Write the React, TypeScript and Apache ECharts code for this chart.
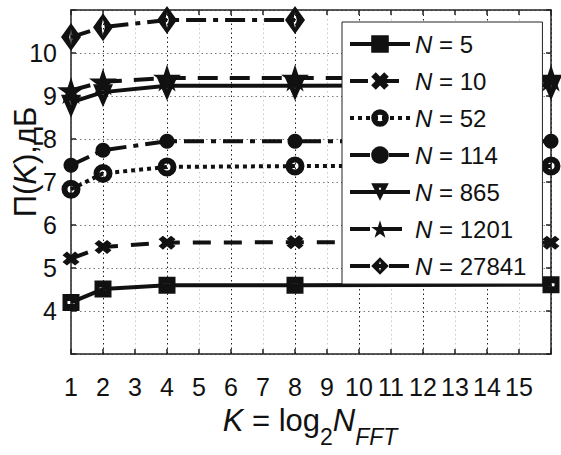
import React, { useEffect, useRef } from 'react';
import * as echarts from 'echarts';

const kValues = [1, 2, 4, 8, 16];
const seriesNames = ['5', '10', '52', '114', '865', '1201', '27841'];
const n5 = [4.2, 4.51, 4.6, 4.6, 4.61];
const n10 = [5.22, 5.49, 5.59, 5.6, 5.59];
const n52 = [6.83, 7.2, 7.35, 7.37, 7.37];
const n114 = [7.39, 7.74, 7.95, 7.95, 7.95];
const n865 = [8.85, 9.09, 9.24, 9.24, 9.25];
const n1201 = [9.13, 9.33, 9.42, 9.42, 9.42];
const n27841 = [10.37, 10.6, 10.77, 10.77, null];
const xTickLabels = ['1', '2', '3', '4', '5', '6', '7', '8', '9', '10', '11', '12', '13', '14', '15'];
const yTickLabels = ['4', '5', '6', '7', '8', '9', '10'];

const FONT = '"Liberation Sans", Arial, sans-serif';
const INK = '#111';

// marker shapes (filled, with holes where the original markers show white)
const SQUARE_RING = 'path://M0,0L17,0L17,17L0,17Z M5,7L5,10L12,10L12,7Z';
const X_PATH = 'path://M0,2.6L2.6,0L5,2.4L7.4,0L10,2.6L7.6,5L10,7.4L7.4,10L5,7.6L2.6,10L0,7.4L2.4,5Z';
const CIRCLE_RING = 'path://M0,9.5A9.5,9.5 0 1,0 19,9.5A9.5,9.5 0 1,0 0,9.5Z M6,9.5A3.5,3.5 0 1,1 13,9.5A3.5,3.5 0 1,1 6,9.5Z';
const TRI_DOWN = 'path://M0,0L20,0L10,23Z M8.5,6L10,11L11.5,6Z';
const STAR_PATH = 'path://M50,0L61.23,34.55L97.55,34.55L68.17,55.9L79.39,90.45L50,69.1L20.61,90.45L31.83,55.9L2.45,34.55L38.77,34.55Z';
const DIAMOND_RING = 'path://M8,0L16,11.5L8,23L0,11.5Z M8,5L6.6,11.5L8,18L9.4,11.5Z';

export default function App() {
  const ref = useRef<HTMLDivElement>(null);
  useEffect(() => {
    document.body.style.margin = '0';
    if (!ref.current) return;
    const chart = echarts.init(ref.current, undefined, { renderer: 'svg' });
    const allData = [n5, n10, n52, n114, n865, n1201, n27841];
    const styles: any[] = [
      { symbol: SQUARE_RING, symbolSize: [17, 17], lineType: 'solid' },
      { symbol: X_PATH, symbolSize: [17, 14], lineType: [18, 13] },
      { symbol: CIRCLE_RING, symbolSize: [19, 19], lineType: [4, 4] },
      { symbol: 'circle', symbolSize: 15, lineType: [20, 7, 5, 7] },
      { symbol: TRI_DOWN, symbolSize: [20, 23], lineType: 'solid', offset: [0, '16%'] },
      { symbol: STAR_PATH, symbolSize: [28, 27], lineType: [20, 12] },
      { symbol: DIAMOND_RING, symbolSize: [20, 28], lineType: [20, 7, 5, 7] },
    ];
    const series = seriesNames.map((name, i) => ({
      name,
      type: 'line',
      data: kValues.map((k, j) => [k, allData[i][j]]),
      connectNulls: false,
      symbol: styles[i].symbol,
      symbolSize: styles[i].symbolSize,
      symbolOffset: styles[i].offset || [0, 0],
      showAllSymbol: true,
      lineStyle: { color: INK, width: 4, type: styles[i].lineType },
      itemStyle: { color: INK, borderWidth: 0, opacity: 1 },
      emphasis: { disabled: true },
    }));
    const axisLineStyle = { color: '#222', width: 1.5 };
    chart.setOption({
      animation: false,
      grid: { left: 71, right: 10, top: 10, bottom: 101, containLabel: false },
      xAxis: [
        {
          type: 'value', min: 1, max: 16, interval: 1, position: 'bottom',
          axisLine: { show: true, onZero: false, lineStyle: axisLineStyle },
          axisTick: { show: true, inside: true, length: 5, lineStyle: axisLineStyle },
          axisLabel: {
            margin: 20, fontSize: 25, fontFamily: FONT, color: INK,
            formatter: (v: number) => (xTickLabels.includes(String(v)) ? String(v) : ''),
          },
          splitLine: { show: true, lineStyle: { color: ['#c8c8c8', '#222'], width: 1, type: [1.5, 3] } },
        },
        {
          type: 'value', min: 1, max: 16, interval: 1, position: 'top',
          axisLine: { show: true, onZero: false, lineStyle: axisLineStyle },
          axisTick: { show: true, inside: true, length: 5, lineStyle: axisLineStyle },
          axisLabel: { show: false }, splitLine: { show: false },
        },
      ],
      yAxis: [
        {
          type: 'value', min: 3, max: 11, interval: 1, position: 'left',
          axisLine: { show: true, onZero: false, lineStyle: axisLineStyle },
          axisTick: { show: true, inside: true, length: 5, lineStyle: axisLineStyle },
          axisLabel: {
            margin: 14, fontSize: 25, fontFamily: FONT, color: INK, padding: [8, 0, 0, 0],
            formatter: (v: number) => (yTickLabels.includes(String(v)) ? String(v) : ''),
          },
          splitLine: { show: true, lineStyle: { color: '#777', width: 1, type: [1.5, 3] } },
        },
        {
          type: 'value', min: 3, max: 11, interval: 1, position: 'right',
          axisLine: { show: true, onZero: false, lineStyle: axisLineStyle },
          axisTick: { show: true, inside: true, length: 5, lineStyle: axisLineStyle },
          axisLabel: { show: false }, splitLine: { show: false },
        },
      ],
      legend: {
        orient: 'vertical', left: 342, top: 22,
        itemWidth: 60, itemHeight: 22, itemGap: 13,
        padding: [10, 16, 6, 6],
        backgroundColor: '#fff', borderColor: '#222', borderWidth: 1, borderRadius: 0,
        selectedMode: false,
        z: 10,
        data: seriesNames.map((name, i) => ({
          name,
          itemStyle: { color: INK, borderWidth: 0 },
          lineStyle: { color: INK, width: 4, type: styles[i].lineType },
        })),
        formatter: (name: string) => `{i|N} = ${name}`,
        textStyle: {
          fontSize: 24, fontFamily: FONT, color: INK,
          rich: { i: { fontStyle: 'italic', fontSize: 24, fontFamily: FONT, color: INK } },
        },
      },
      graphic: [
        {
          type: 'text', x: 25, y: 162, rotation: Math.PI / 2, silent: true,
          style: {
            text: '{n|П(}{i|K}{n|),дБ}',
            align: 'center', verticalAlign: 'middle',
            fill: INK,
            rich: {
              n: { fontSize: 31, fontFamily: FONT, fill: INK, color: INK },
              i: { fontSize: 31, fontFamily: FONT, fontStyle: 'italic', fill: INK, color: INK },
            },
          },
        },
        {
          type: 'text', x: 310, y: 420, silent: true,
          style: {
            text: '{i|K}{n| = log}{s|2}{i|N}{si|FFT}',
            align: 'center', verticalAlign: 'middle',
            fill: INK,
            rich: {
              n: { fontSize: 31, fontFamily: FONT, fill: INK, color: INK, lineHeight: 32, verticalAlign: 'middle' },
              i: { fontSize: 31, fontFamily: FONT, fontStyle: 'italic', fill: INK, color: INK, lineHeight: 32, verticalAlign: 'middle' },
              s: { fontSize: 23, fontFamily: FONT, fill: INK, color: INK, lineHeight: 56, verticalAlign: 'bottom' },
              si: { fontSize: 23, fontFamily: FONT, fontStyle: 'italic', fill: INK, color: INK, lineHeight: 56, verticalAlign: 'bottom' },
            },
          },
        },
      ],
      series,
    });
    return () => chart.dispose();
  }, []);
  return <div ref={ref} style={{ width: 561, height: 455 }} />;
}
